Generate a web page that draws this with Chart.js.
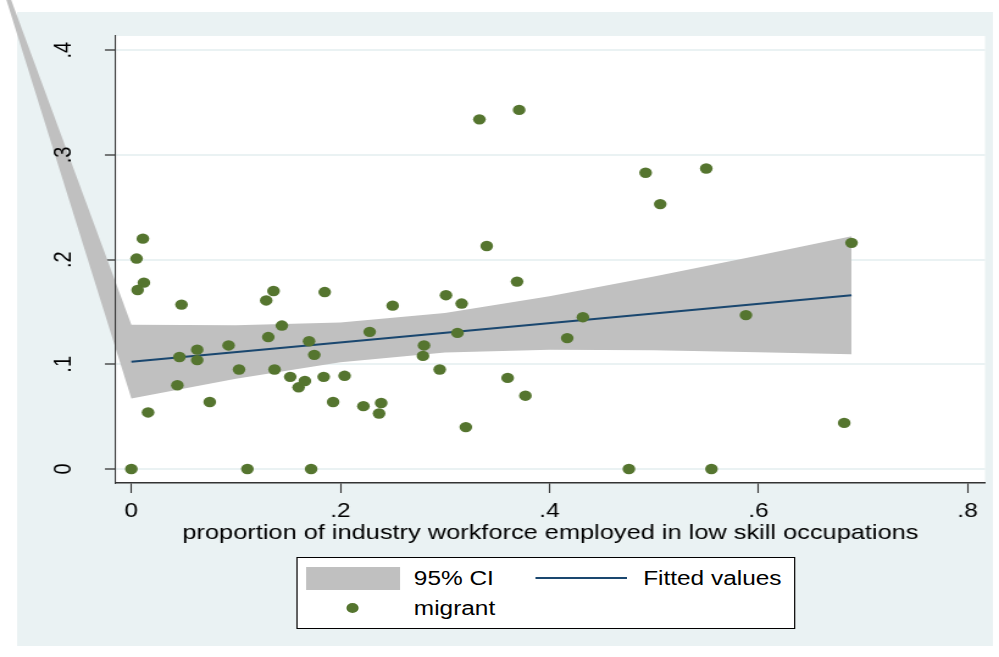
<!DOCTYPE html>
<html>
<head>
<meta charset="utf-8">
<title>migrant share by low skill share</title>
<script src="https://cdn.jsdelivr.net/npm/chart.js@4.4.1/dist/chart.umd.min.js"></script>
<style>
  html, body { margin: 0; padding: 0; background: #fff; overflow: hidden; }
  /* the original graph export is stretched sideways, so draw it narrow and widen it */
  #fig { position: relative; width: 819px; height: 657px; transform: scaleX(1.2198); transform-origin: 0 0; }
  #legend {
    position: absolute; left: 242.6px; top: 557px; width: 409.9px; height: 72px;
    box-sizing: border-box; border: 1px solid #000; background: #fff;
    display: grid; grid-template-columns: 77px 111px 77px auto; grid-auto-rows: 30px;
    align-items: center; padding: 5px 0 0 7.2px;
    font-family: 'Liberation Sans', Arial, sans-serif; font-size: 20px; color: #000;
  }
  .key-area { width: 77px; height: 23px; }
  .key-line { width: 75px; height: 2px; }
  .key-dot { width: 10px; height: 10px; border-radius: 50%; justify-self: center; }
  .key-text { padding-left: 11.5px; white-space: nowrap; }
</style>
</head>
<body>
<div id="fig">
  <canvas id="grafico"></canvas>
  <div id="legend"></div>
</div>
<script>
// proportion of industry workforce in low skill occupations (x) and migrant share (y)
const migrantX = [0.000, 0.005, 0.011, 0.012, 0.006, 0.016, 0.048, 0.046, 0.044, 0.063,
                  0.063, 0.075, 0.093, 0.103, 0.111, 0.129, 0.136, 0.131, 0.144, 0.137,
                  0.152, 0.160, 0.166, 0.170, 0.175, 0.172, 0.185, 0.184, 0.193, 0.204,
                  0.222, 0.228, 0.250, 0.239, 0.237, 0.280, 0.279, 0.295, 0.301, 0.316,
                  0.312, 0.320, 0.333, 0.371, 0.340, 0.369, 0.360, 0.377, 0.417, 0.432,
                  0.476, 0.492, 0.506, 0.550, 0.555, 0.588, 0.682, 0.689];
const migrantY = [0.000, 0.201, 0.220, 0.178, 0.171, 0.054, 0.157, 0.107, 0.080, 0.114,
                  0.104, 0.064, 0.118, 0.095, 0.000, 0.161, 0.170, 0.126, 0.137, 0.095,
                  0.088, 0.078, 0.084, 0.122, 0.109, 0.000, 0.169, 0.088, 0.064, 0.089,
                  0.060, 0.131, 0.156, 0.063, 0.053, 0.118, 0.108, 0.095, 0.166, 0.158,
                  0.130, 0.040, 0.334, 0.343, 0.213, 0.179, 0.087, 0.070, 0.125, 0.145,
                  0.000, 0.283, 0.253, 0.287, 0.000, 0.147, 0.044, 0.216];

// fitted line and its 95% band (first band point is the stray one off to the top left)
const fitX = [0, 0.689];
const fitY = [0.1025, 0.166];
const ciX = [-0.145, 0, 0.1, 0.2, 0.3, 0.4, 0.5, 0.6, 0.689];
const ciUpper = [0.529, 0.1378, 0.1373, 0.1399, 0.1491, 0.1650, 0.1839, 0.2040, 0.2223];
const ciLower = [0.529, 0.0672, 0.0861, 0.1020, 0.1112, 0.1138, 0.1133, 0.1116, 0.1097];

const xTicks = [0, 0.2, 0.4, 0.6, 0.8];
const xTickLabels = ['0', '.2', '.4', '.6', '.8'];
const yTicks = [0, 0.1, 0.2, 0.3, 0.4];
const yTickLabels = ['0', '.1', '.2', '.3', '.4'];

const FONT = "'Liberation Sans', Arial, sans-serif";
const pares = (xs, ys) => xs.map((x, i) => ({ x: x, y: ys[i] }));

// light blue graph region and white plot region
const fondo = {
    id: 'fondo',
    beforeDraw(chart) {
        const { ctx, chartArea: a } = chart;
        ctx.save();
        ctx.fillStyle = '#EAF2F3';
        ctx.fillRect(14, 12, 800, 634);
        ctx.fillStyle = '#FFFFFF';
        ctx.fillRect(a.left, a.top, a.right - a.left, a.bottom - a.top);
        ctx.restore();
    }
};

// the band spills out of the plot region in the original, so let datasets use the whole canvas
const sinRecorte = {
    id: 'sinRecorte',
    beforeDatasetsDraw(chart) {
        chart.$plotArea = chart.chartArea;
        chart.chartArea = { left: 0, top: 0, right: chart.width, bottom: chart.height,
                            width: chart.width, height: chart.height };
    },
    afterDatasetsDraw(chart) {
        chart.chartArea = chart.$plotArea;
    }
};

// legend as html, two columns like the stata one
const leyendaHtml = {
    id: 'leyendaHtml',
    afterUpdate(chart) {
        const caja = document.getElementById('legend');
        caja.innerHTML = '';
        chart.data.datasets.forEach(ds => {
            if (!ds.label) return;
            const key = document.createElement('span');
            if (ds.fill) {
                key.className = 'key-area';
                key.style.background = ds.backgroundColor;
            } else if (ds.showLine) {
                key.className = 'key-line';
                key.style.background = ds.borderColor;
            } else {
                key.className = 'key-dot';
                key.style.background = ds.backgroundColor;
            }
            const txt = document.createElement('span');
            txt.className = 'key-text';
            txt.textContent = ds.label;
            caja.append(key, txt);
        });
    }
};

const ctx = document.getElementById('grafico').getContext('2d');
const grafico = new Chart(ctx, {
    type: 'scatter',
    data: {
        datasets: [
            {
                label: '95% CI',
                data: pares(ciX, ciUpper),
                showLine: true,
                fill: '+1',
                clip: false,
                backgroundColor: '#C0C0C0',
                borderColor: '#C0C0C0',
                borderWidth: 0,
                pointRadius: 0,
                order: 3
            },
            {
                label: '',
                data: pares(ciX, ciLower),
                showLine: true,
                fill: false,
                clip: false,
                borderColor: '#C0C0C0',
                borderWidth: 0,
                pointRadius: 0,
                order: 4
            },
            {
                label: 'Fitted values',
                data: pares(fitX, fitY),
                showLine: true,
                fill: false,
                borderColor: '#1A476F',
                borderWidth: 2,
                pointRadius: 0,
                order: 2
            },
            {
                label: 'migrant',
                data: pares(migrantX, migrantY),
                backgroundColor: '#55752F',
                borderWidth: 0,
                pointRadius: 5.2,
                order: 1
            }
        ]
    },
    options: {
        responsive: true,
        maintainAspectRatio: false,
        devicePixelRatio: 1,
        animation: false,
        layout: { padding: { top: 36, right: 11.5, bottom: 0, left: 0 } },
        scales: {
            x: {
                type: 'linear',
                min: -0.0148,
                max: 0.8167,
                bounds: 'data',
                afterBuildTicks: axis => { axis.ticks = xTicks.map(v => ({ value: v })); },
                afterFit: axis => { axis.height = 174; },
                grid: { drawOnChartArea: false, tickColor: '#333', tickWidth: 1.1, tickLength: 10 },
                border: { color: '#333', width: 1.4, z: 1 },
                ticks: {
                    autoSkip: false,
                    maxRotation: 0,
                    padding: 6,
                    color: '#000',
                    font: { family: FONT, size: 20 },
                    callback: (v, i) => xTickLabels[i]
                },
                title: {
                    display: true,
                    text: 'proportion of industry workforce employed in low skill occupations',
                    color: '#000',
                    font: { family: FONT, size: 20.8 },
                    padding: { top: 0, bottom: 111.5 }
                }
            },
            y: {
                type: 'linear',
                min: -0.0134,
                max: 0.4136,
                bounds: 'data',
                afterBuildTicks: axis => { axis.ticks = yTicks.map(v => ({ value: v })); },
                afterFit: axis => {
                    axis.width = 95;
                    // keep the plot top at the layout padding, not pushed by the rotated labels
                    axis.paddingTop = 0;
                    axis.paddingBottom = 0;
                },
                grid: { color: '#EAF2F3', lineWidth: 2, tickColor: '#333', tickWidth: 1.3, tickLength: 9 },
                border: { color: '#333', width: 1.1, z: 1 },
                ticks: {
                    z: 1,
                    autoSkip: false,
                    minRotation: 90,
                    maxRotation: 90,
                    crossAlign: 'center',
                    padding: 25,
                    color: '#000',
                    font: { family: FONT, size: 20 },
                    callback: (v, i) => yTickLabels[i]
                }
            }
        },
        plugins: {
            legend: { display: false },
            tooltip: { enabled: false }
        }
    },
    plugins: [fondo, sinRecorte, leyendaHtml]
});
</script>
</body>
</html>
